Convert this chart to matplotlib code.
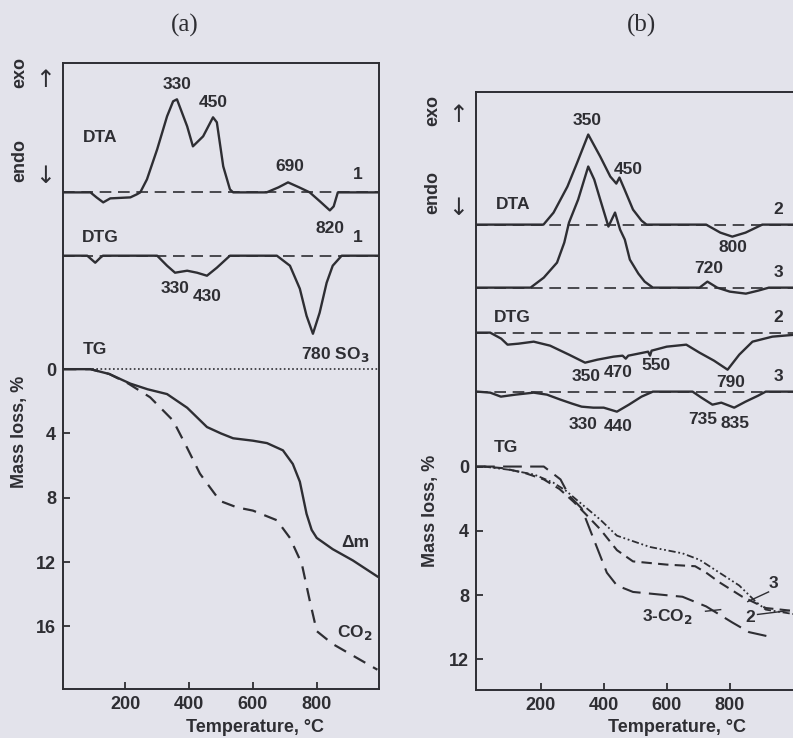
import matplotlib
matplotlib.use("Agg")
import matplotlib.pyplot as plt
import numpy as np

plt.rcParams['font.family'] = ['Liberation Sans', 'DejaVu Sans']
plt.rcParams['font.weight'] = 'bold'

# --- данные панели (a) ---
# DTA, отклонение от базовой линии (экзо вверх), усл. ед.
dta_a_t = [5, 91, 110, 131, 153, 216, 236, 247, 268, 300, 331, 350, 362, 394, 412, 444,
           475, 487, 507, 528, 538, 643, 680, 710, 745, 778, 810, 841, 853, 866, 995]
dta_a_v = [0, 0, -5, -10, -6, -5, -2, 0, 13, 43, 76, 91, 93, 66, 46, 56,
           75, 70, 26, 3, 0, 0, 5, 10, 5, 0, -9, -18, -14, 0, 0]
# DTG
dtg_a_t = [5, 81, 106, 122, 130, 300, 331, 356, 394, 425, 456, 487, 528, 675, 716, 747,
           768, 788, 809, 831, 850, 878, 995]
dtg_a_v = [0, 0, -7, -2, 0, 0, -10, -17, -15, -17, -20, -12, 0, 0, -10, -33,
           -60, -78, -57, -27, -10, 0, 0]
# TG: потеря массы, %
tg_dm_t = [5, 91, 150, 216, 270, 331, 394, 456, 500, 538, 600, 644, 694, 725, 747,
           768, 784, 800, 850, 913, 990]
tg_dm_v = [0, 0, 0.3, 0.9, 1.25, 1.55, 2.4, 3.6, 4.0, 4.3, 4.45, 4.6, 5.05, 5.9, 7.0,
           9.0, 10.0, 10.5, 11.2, 11.9, 12.9]
tg_co2_t = [5, 91, 150, 210, 278, 350, 394, 434, 456, 497, 550, 600, 675, 716, 753,
            778, 800, 850, 920, 990]
tg_co2_v = [0, 0, 0.3, 0.9, 1.75, 3.2, 4.9, 6.5, 7.1, 8.2, 8.6, 8.8, 9.4, 10.5, 12.1,
            14.4, 16.3, 17.1, 17.9, 18.7]

# --- данные панели (b) ---
dta_b2_t = [0, 209, 241, 285, 316, 351, 389, 421, 432, 440, 450, 465, 493, 520, 536,
            725, 770, 808, 850, 903, 1010]
dta_b2_v = [0, 0, 12, 38, 62, 90, 68, 48, 44, 41, 47, 36, 15, 4, 0,
            0, -8, -12, -8, 0, 0]
dta_b3_t = [0, 168, 210, 252, 275, 290, 319, 351, 370, 389, 415, 436, 452, 467, 483,
            510, 530, 556, 704, 729, 760, 800, 851, 890, 924, 1010]
dta_b3_v = [0, 0, 10, 25, 45, 65, 88, 121, 108, 88, 61, 75, 58, 48, 28,
            14, 6, 0, 0, 6, 0, -4, -6, -3, 0, 0]
dtg_b2_t = [0, 40, 75, 95, 130, 178, 230, 290, 341, 380, 431, 460, 470, 478, 541,
            547, 552, 600, 662, 704, 750, 793, 830, 872, 935, 1010]
dtg_b2_v = [0, 0, -6, -12, -11, -9, -13, -22, -30, -27, -24, -23, -26, -23, -19,
            -23, -18, -14, -12, -20, -28, -37, -22, -9, -4, -2]
dtg_b3_t = [0, 40, 74, 120, 178, 220, 263, 300, 330, 367, 400, 442, 480, 520, 556,
            682, 710, 745, 773, 814, 850, 890, 914, 1010]
dtg_b3_v = [0, -1, -5, -3, -1, -3, -8, -12, -15, -16, -16, -20, -13, -5, 0,
            0, -6, -13, -11, -16, -10, -4, 0, 0]
tg_b2_t = [-5, 20, 80, 150, 210, 260, 305, 345, 389, 442, 493, 600, 690, 725, 767,
           840, 914, 1010]
tg_b2_v = [0, 0, 0.1, 0.4, 0.8, 1.4, 2.2, 3.0, 3.9, 5.2, 5.9, 6.1, 6.2, 6.6, 7.2,
           8.1, 8.8, 9.0]
tg_b3_t = [20, 100, 180, 240, 280, 310, 389, 442, 546, 650, 704, 767, 830, 882, 914, 1010]
tg_b3_v = [0, 0.2, 0.5, 1.0, 1.5, 2.0, 3.3, 4.3, 5.0, 5.4, 5.8, 6.6, 7.4, 8.4, 8.9, 9.2]
tg_b3co2_t = [-5, 100, 210, 263, 290, 330, 368, 410, 442, 493, 650, 725, 808, 861, 930]
tg_b3co2_v = [0, 0, 0, 0.8, 1.8, 2.6, 4.5, 6.6, 7.4, 7.8, 8.1, 8.7, 9.7, 10.3, 10.6]

bg = '#e3e3eb'
ink = '#2e2e33'
k = 1 / 16.06  # пересчёт отклонений DTA/DTG в единицы оси

fig = plt.figure(figsize=(7.93, 7.38), dpi=100, facecolor=bg)
ax_a = fig.add_axes([63 / 793, 1 - 689 / 738, 316 / 793, 626 / 738])
ax_b = fig.add_axes([476 / 793, 1 - 690 / 738, 320 / 793, 598 / 738])

for ax in (ax_a, ax_b):
    ax.set_facecolor(bg)
    for s in ax.spines.values():
        s.set_color(ink)
        s.set_linewidth(1.4)
    ax.tick_params(direction='in', length=5, width=1.3, colors=ink,
                   labelsize=13, pad=5)
    ax.set_xticks([200, 400, 600, 800])

# ----- (a) -----
ax = ax_a
ax.set_xlim(5, 995)
ax.set_ylim(19.9, -19.05)
ax.set_yticks([0, 4, 8, 12, 16])

base_dta, base_dtg = -11.0, -7.06
dash = dict(color=ink, lw=1.2, dashes=(7, 4))
ax.axhline(base_dta, **dash)
ax.axhline(base_dtg, **dash)
ax.axhline(0, color=ink, lw=1.2, ls=(0, (1, 1.5)))
ax.plot(dta_a_t, base_dta - np.array(dta_a_v) * k, color=ink, lw=1.7)
ax.plot(dtg_a_t, base_dtg - np.array(dtg_a_v) * k, color=ink, lw=1.7)
ax.plot(tg_dm_t, tg_dm_v, color=ink, lw=1.7)
ax.plot(tg_co2_t, tg_co2_v, color=ink, lw=1.6, dashes=(6, 4))

lab = dict(fontsize=12.5, color=ink, ha='center', va='center')
for t, y, s in [(363, -17.7, '330'), (476, -16.6, '450'), (717, -12.6, '690'),
                (842, -8.75, '820'), (929, -12.1, '1'), (929, -8.2, '1'),
                (122, -14.4, 'DTA'), (122, -8.2, 'DTG'), (357, -5.0, '330'),
                (457, -4.5, '430'), (857, -0.9, '780 SO$_3$'), (106, -1.2, 'TG'),
                (920, 10.8, '\u0394m'), (920, 16.4, 'CO$_2$')]:
    ax.text(t, y, s, **lab)

# ----- (b) -----
ax = ax_b
ax.set_xlim(-5, 1010)
ax.set_ylim(13.9, -23.3)
ax.set_yticks([0, 4, 8, 12])
ax.spines['right'].set_visible(False)

b_dta2, b_dta3, b_dtg2, b_dtg3 = -15.05, -11.13, -8.33, -4.66
for b in (b_dta2, b_dta3, b_dtg2, b_dtg3):
    ax.axhline(b, **dash)
ax.plot(dta_b2_t, b_dta2 - np.array(dta_b2_v) * k, color=ink, lw=1.7)
ax.plot(dta_b3_t, b_dta3 - np.array(dta_b3_v) * k, color=ink, lw=1.7)
ax.plot(dtg_b2_t, b_dtg2 - np.array(dtg_b2_v) * k, color=ink, lw=1.7)
ax.plot(dtg_b3_t, b_dtg3 - np.array(dtg_b3_v) * k, color=ink, lw=1.7)
ax.plot(tg_b2_t, tg_b2_v, color=ink, lw=1.5, dashes=(5, 3))
ax.plot(tg_b3_t, tg_b3_v, color=ink, lw=1.3, dashes=(4, 1.5, 1, 1.5, 1, 1.5))
ax.plot(tg_b3co2_t, tg_b3co2_v, color=ink, lw=1.5, dashes=(9, 4))

for t, y, s in [(349, -21.5, '350'), (479, -18.5, '450'), (114, -16.3, 'DTA'),
                (954, -16.0, '2'), (811, -13.6, '800'), (732, -12.3, '720'),
                (954, -12.1, '3'), (111, -9.3, 'DTG'), (954, -9.3, '2'),
                (343, -5.6, '350'), (447, -5.85, '470'), (565, -6.3, '550'),
                (802, -5.2, '790'), (954, -5.6, '3'), (336, -2.6, '330'),
                (447, -2.5, '440'), (713, -2.9, '735'), (817, -2.7, '835'),
                (89, -1.2, 'TG'), (939, 7.3, '3'), (866, 9.4, '2'),
                (602, 9.3, '3-CO$_2$')]:
    ax.text(t, y, s, **lab)
# выноски
ax.plot([923, 857], [7.8, 8.4], color=ink, lw=1.0)
ax.plot([888, 987], [9.2, 8.96], color=ink, lw=1.0)
ax.plot([723, 771], [9.0, 8.9], color=ink, lw=1.0)

# подписи вне осей
for xc in (255, 677):
    fig.text(xc / 793, 1 - 728 / 738, 'Temperature, \u00b0C', fontsize=13,
             color=ink, ha='center', va='center')
fig.text(20 / 793, 1 - 432 / 738, 'Mass loss, %', rotation=90, fontsize=13,
         color=ink, ha='center', va='center')
fig.text(430 / 793, 1 - 511 / 738, 'Mass loss, %', rotation=90, fontsize=13,
         color=ink, ha='center', va='center')
arrow = dict(fontsize=17, color=ink, ha='center', va='center',
             family='DejaVu Sans', fontweight='normal')
for xe, xa, ye, ya, ye2, ya2 in [(20, 45, 72, 80, 160, 176), (433, 458, 110, 115, 193, 208)]:
    fig.text(xe / 793, 1 - ye / 738, 'exo', rotation=90, fontsize=13, color=ink,
             ha='center', va='center')
    fig.text(xa / 793, 1 - ya / 738, '\u2191', **arrow)
    fig.text(xe / 793, 1 - ye2 / 738, 'endo', rotation=90, fontsize=13, color=ink,
             ha='center', va='center')
    fig.text(xa / 793, 1 - ya2 / 738, '\u2193', **arrow)
fig.text(185 / 793, 1 - 25 / 738, '(a)', fontsize=18, family='Liberation Serif',
         fontweight='normal', color=ink, ha='center', va='center')
fig.text(642 / 793, 1 - 25 / 738, '(b)', fontsize=18, family='Liberation Serif',
         fontweight='normal', color=ink, ha='center', va='center')

fig.savefig('out.png', dpi=100, facecolor=bg)
